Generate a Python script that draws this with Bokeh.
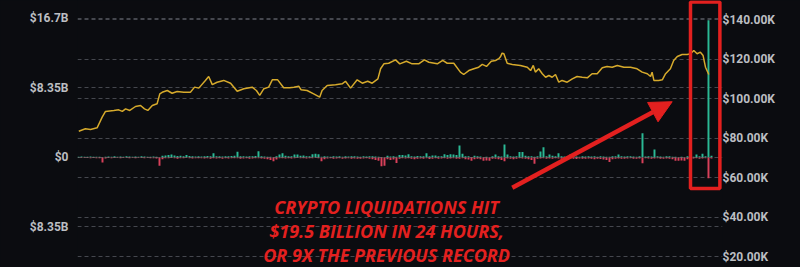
from bokeh.plotting import figure
from bokeh.models import (Range1d, LinearAxis, FixedTicker, Grid, Label, Arrow,
                          NormalHead, BoxAnnotation, ColumnDataSource)
from bokeh.embed import file_html
from bokeh.resources import INLINE

# ---------------- data ----------------
# daily liquidation bars (billions USD): long side (green, up) and short side (red, down)
long_liq = [
    .10, .12, .08, .10, .12, .10, .08, .10, .06, .10,
    .12, .10, .14, .10, .12, .10, .14, .12, .10, .12,
    .10, .14, .12, .10, .08, .12, .10, .06, .20, .25,
    .30, .35, .25, .18, .20, .16, .30, .18, .14, .12,
    .14, .12, .16, .18, .14, .50, .16, .14, .12, .16,
    .14, .18, .20, .70, .16, .14, .12, .14, .16, .18,
    .75, .14, .12, .10, .08, .06, .14, .35, .50, .20,
    .16, .14, .35, .35, .20, .25, .14, .16, .40, .45,
    .40, .08, .14, .12, .10, .14, .12, .16, .10, .14,
    .12, .16, .14, .12, .10, .14, .12, .14, .16, .12,
    .10, .06, .06, .20, .12, .14, .08, .30, .30, .25,
    .40, .16, .12, .18, .14, .16, .50, .14, .25, .25,
    .14, .16, .40, .30, .40, .35, .30, 1.45, .45, .14,
    .16, .06, .20, .14, .12, .06, .08, .06, .14, .35,
    .16, .12, 1.55, .35, .14, .12, .16, .65, .65, .20,
    .14, .16, .08, .14, .72, 1.24, .16, .35, .20, .14,
    .52, .14, .12, .16, .40, .14, .12, .10, .14, .12,
    .14, .12, .16, .10, .14, .12, .10, .08, .14, .16,
    .35, .14, .12, .16, .14, .12, .10, .14, 2.90, .12,
    .14, .12, .96, .14, .12, .10, .14, .16, .10, .08,
    .06, .08, .06, .14, .12, .10, .35, .14, .45, .14,
    16.5, .22,
]
short_liq = [
    .04, .05, .06, .05, .08, .06, .08, .10, .60, .12,
    .06, .08, .05, .06, .10, .06, .05, .08, .06, .10,
    .06, .05, .08, .06, .10, .08, .12, 1.00, .20, .10,
    .08, .06, .10, .14, .08, .10, .06, .08, .12, .10,
    .10, .08, .12, .10, .14, .08, .12, .10, .16, .10,
    .12, .10, .08, .10, .14, .12, .10, .16, .12, .10,
    .08, .12, .16, .20, .30, .45, .25, .10, .08, .12,
    .10, .12, .08, .06, .10, .08, .12, .10, .08, .06,
    .10, .45, .20, .12, .10, .14, .12, .10, .14, .12,
    .10, .14, .12, .16, .14, .12, .10, .14, .20, .30,
    .40, 1.05, 1.00, .20, .30, .25, .65, .14, .10, .12,
    .10, .16, .20, .14, .12, .16, .10, .18, .14, .10,
    .16, .12, .10, .14, .12, .10, .14, .16, .10, .20,
    .25, .40, .20, .16, .20, .40, .35, .40, .16, .14,
    .20, .30, .45, .12, .16, .20, .14, .10, .12, .16,
    .20, .30, .75, .16, .12, .10, .14, .12, .16, .10,
    .12, .14, .10, .16, .12, .14, .18, .12, .14, .16,
    .12, .16, .20, .14, .18, .25, .30, .55, .20, .16,
    .12, .14, .16, .12, .10, .14, .16, .12, .70, .10,
    .12, .14, .12, .10, .16, .14, .12, .16, .20, .40,
    .40, .35, .40, .20, .14, .12, .10, .14, .12, .10,
    2.50, .12,
]
bar_day = list(range(len(long_liq)))
short_neg = [-v for v in short_liq]

# BTC price (thousands USD)
price_day = [0.1, 2.3, 4.0, 6.2, 7.9, 9.0, 11.8, 13.4, 14.6, 15.7, 17.1, 19.0, 20.7, 22.0,
             23.1, 24.6, 26.2, 27.1, 27.9, 29.6, 31.2, 32.9, 35.1, 37.3, 38.7, 40.1, 42.3,
             43.4, 44.6, 46.2, 48.4, 50.7, 52.9, 55.1, 57.9, 59.3, 60.4, 61.8, 63.4, 64.6,
             66.4, 68.4, 70.4, 71.8, 73.4, 74.2, 76.2, 78.4, 80.4, 81.2, 82.9, 85.7, 87.9,
             89.0, 90.7, 92.9, 94.6, 96.4, 97.9, 99.8, 100.7, 101.8, 103.4, 105.7, 107.1,
             109.3, 111.2, 113.4, 115.3, 116.8, 119.6, 121.4, 122.9, 125.1, 127.3, 128.4,
             130.1, 131.8, 133.4, 134.6, 136.0, 137.6, 139.0, 140.1, 140.7, 141.2, 141.8,
             142.9, 144.6, 147.3, 149.6, 150.7, 151.6, 152.3, 153.4, 154.6, 155.7, 156.8,
             157.9, 159.0, 160.1, 161.2, 162.9, 164.6, 166.2, 167.9, 169.6, 171.2, 172.9,
             174.6, 176.2, 177.9, 179.6, 181.8, 184.0, 186.2, 187.9, 189.6, 190.7, 191.2,
             191.8, 193.4, 194.6, 195.7, 197.3, 198.4, 199.6, 201.2, 202.9, 204.0, 205.1,
             206.2, 207.3, 208.2, 209.0, 210.1]
price_k = [83.7, 84.9, 84.6, 85.4, 90.8, 93.7, 94.2, 94.5, 93.7, 95.0, 94.2, 96.2, 96.7, 95.0,
           94.2, 96.7, 97.6, 102.6, 103.4, 104.3, 102.9, 103.8, 103.4, 103.4, 106.0, 105.5,
           109.4, 111.4, 107.3, 108.5, 109.4, 108.0, 103.9, 105.2, 106.0, 104.3, 101.8, 105.2,
           106.0, 109.7, 109.7, 105.7, 105.7, 106.0, 106.5, 104.7, 104.3, 102.6, 100.9, 104.3,
           106.8, 107.2, 107.7, 109.0, 105.5, 109.7, 108.0, 109.0, 108.0, 110.2, 115.3, 117.8,
           118.1, 119.8, 117.8, 119.1, 117.8, 117.8, 119.8, 118.6, 117.8, 119.5, 118.1, 118.1,
           113.6, 112.4, 114.4, 115.3, 116.1, 117.5, 116.5, 119.1, 119.5, 120.4, 121.5, 123.2,
           122.9, 118.1, 117.5, 117.0, 116.1, 114.4, 117.0, 113.6, 115.3, 112.8, 111.0, 111.9,
           111.0, 112.4, 108.5, 109.4, 108.5, 110.2, 111.4, 111.0, 110.7, 112.8, 112.8, 115.8,
           116.5, 116.1, 117.0, 116.1, 116.1, 115.3, 113.6, 112.8, 111.4, 113.6, 109.4, 109.4,
           109.7, 112.8, 115.3, 119.5, 121.5, 122.5, 122.5, 122.9, 124.6, 122.9, 123.7, 122.0,
           116.1, 112.4]

left_ticks = [-8.35, 0, 8.35, 16.7]
left_labels = {-8.35: "$8.35B", 0: "$0", 8.35: "$8.35B", 16.7: "$16.7B"}
right_ticks = [20, 40, 60, 80, 100, 120, 140]
right_labels = {t: "$%d.00K" % t for t in right_ticks}

note_lines = ["CRYPTO LIQUIDATIONS HIT", "$19.5 BILLION IN 24 HOURS,", "OR 9X THE PREVIOUS RECORD"]

# ---------------- styles ----------------
BG = "#0b0c10"
GRID = "#45474e"
LABEL = "#bcbec2"
GREEN = "#2bb995"
RED_BAR = "#d9405a"
GOLD = "#d6aa2c"
RED = "#e3201f"

p = figure(width=800, height=267, output_backend="svg", toolbar_location=None,
           x_range=Range1d(-0.33, 214.67), y_range=Range1d(-13.22, 18.86),
           min_border_left=77, min_border_right=78, min_border_top=0, min_border_bottom=0,
           background_fill_color=BG, border_fill_color=BG, outline_line_color=None)
p.styles = {"background-color": BG}
p.extra_y_ranges = {"price": Range1d(14.68, 149.87)}

p.xaxis.visible = False
p.xgrid.visible = False

ya = p.yaxis[0]
ya.ticker = FixedTicker(ticks=left_ticks)
ya.major_label_overrides = left_labels
ya.axis_line_color = None
ya.major_tick_line_color = None
ya.minor_tick_line_color = None
ya.major_tick_out = 0
ya.major_tick_in = 0
ya.minor_tick_out = 0
ya.major_label_standoff = 9
ya.major_label_text_color = LABEL
ya.major_label_text_font = "Roboto"
ya.major_label_text_font_style = "bold"
ya.major_label_text_font_size = "12px"

ra = LinearAxis(y_range_name="price", ticker=FixedTicker(ticks=right_ticks),
                major_label_overrides=right_labels)
ra.axis_line_color = None
ra.major_tick_line_color = None
ra.minor_tick_line_color = None
ra.major_tick_out = 0
ra.major_tick_in = 0
ra.minor_tick_out = 0
ra.major_label_standoff = 0
ra.major_label_text_color = LABEL
ra.major_label_text_font = "Roboto"
ra.major_label_text_font_style = "bold"
ra.major_label_text_font_size = "12px"
p.add_layout(ra, "right")

p.ygrid.grid_line_color = GRID
p.ygrid.grid_line_dash = "4 3"
p.ygrid.grid_line_width = 1
rg = Grid(dimension=1, ticker=FixedTicker(ticks=right_ticks), y_range_name="price",
          grid_line_color=GRID, grid_line_dash="4 3", grid_line_width=1)
p.add_layout(rg)

src = ColumnDataSource(dict(day=bar_day, up=long_liq, down=short_neg))
p.vbar(x="day", top="up", bottom=0, width=0.65, source=src,
       fill_color=GREEN, line_color=None)
p.vbar(x="day", top=0, bottom="down", width=0.65, source=src,
       fill_color=RED_BAR, line_color=None)

p.line(price_day, price_k, y_range_name="price", line_color=GOLD, line_width=1.5)

# annotations
for txt, yv in zip(note_lines, [-6.0, -8.89, -11.77]):
    p.add_layout(Label(x=102.7, y=yv, text=txt, text_align="center", text_baseline="middle",
                       text_color=RED, text_font="Open Sans", text_font_style="bold italic",
                       text_font_size="18px"))

p.add_layout(Arrow(end=NormalHead(size=22, fill_color=RED, line_color=RED, line_width=1),
                   x_start=144.6, y_start=-3.65, x_end=197.9, y_end=6.7,
                   line_color=RED, line_width=4.5))

p.add_layout(BoxAnnotation(left=204, right=213.8, top=18.68, bottom=-3.72,
                           fill_alpha=0, line_color=RED, line_alpha=1, line_width=3.5))

html = file_html(p, INLINE)
html = html.replace("<body>", '<body style="background:%s;margin:0">' % BG, 1)
open("out.html", "w").write(html)
